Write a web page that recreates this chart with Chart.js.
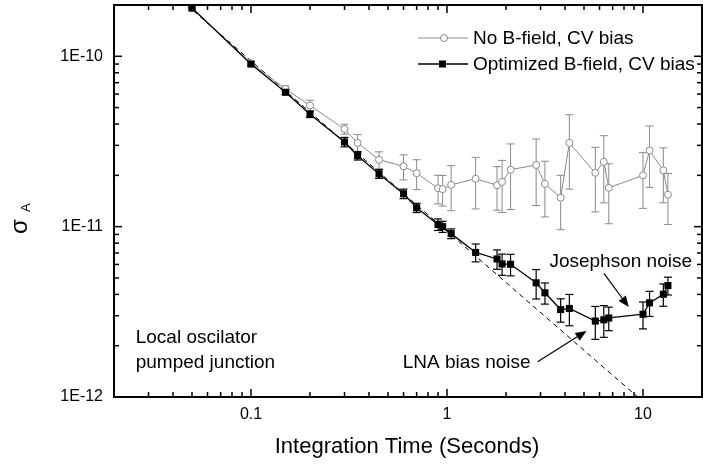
<!DOCTYPE html>
<html>
<head>
<meta charset="utf-8">
<script src="https://cdn.jsdelivr.net/npm/chart.js@4.4.1/dist/chart.umd.min.js"></script>
<style>
  html, body { margin: 0; padding: 0; background: #fff; overflow: hidden; }
  #wrap { width: 703px; height: 464px; overflow: hidden; }
</style>
</head>
<body>
<div id="wrap"><canvas id="chart" width="707" height="464"></canvas></div>
<script>
// ─── Data ───
const times = [0.05, 0.1, 0.15, 0.2, 0.3, 0.35, 0.45, 0.6, 0.7, 0.9, 0.95, 1.05, 1.4, 1.8, 1.91,
    2.11, 2.85, 3.16, 3.8, 4.21, 5.71, 6.31, 6.69, 10, 10.8, 12.7, 13.4];

const noFieldSigma = [1.92e-10, 9.1e-11, 6.43e-11, 5.14e-11, 3.74e-11, 3.1e-11, 2.47e-11, 2.26e-11,
    2.06e-11, 1.68e-11, 1.66e-11, 1.76e-11, 1.91e-11, 1.75e-11, 1.83e-11, 2.16e-11, 2.3e-11,
    1.78e-11, 1.48e-11, 3.1e-11, 2.07e-11, 2.4e-11, 1.69e-11, 2.0e-11, 2.8e-11, 2.14e-11, 1.54e-11];
const noFieldErr = [0.3e-11, 0.2e-11, 0.27e-11, 0.38e-11, 0.25e-11, 0.37e-11, 0.28e-11, 0.38e-11,
    0.41e-11, 0.32e-11, 0.34e-11, 0.52e-11, 0.64e-11, 0.5e-11, 0.62e-11, 0.9e-11, 0.97e-11,
    0.64e-11, 0.52e-11, 1.44e-11, 0.85e-11, 1.02e-11, 0.65e-11, 0.72e-11, 1.1e-11, 0.76e-11, 0.51e-11];

const optFieldSigma = [1.92e-10, 9.0e-11, 6.15e-11, 4.57e-11, 3.14e-11, 2.61e-11, 2.04e-11, 1.56e-11,
    1.29e-11, 1.03e-11, 1.0e-11, 9.1e-12, 7.06e-12, 6.46e-12, 6.04e-12, 6.01e-12, 4.68e-12,
    4.09e-12, 3.26e-12, 3.31e-12, 2.79e-12, 2.84e-12, 2.91e-12, 3.06e-12, 3.57e-12, 4.01e-12, 4.51e-12];
const optFieldErr = [2.0e-12, 2.0e-12, 2.0e-12, 2.0e-12, 2.0e-12, 1.5e-12, 1.2e-12, 1.0e-12,
    0.8e-12, 0.8e-12, 0.75e-12, 0.6e-12, 0.85e-12, 0.84e-12, 0.86e-12, 0.87e-12, 0.92e-12,
    0.58e-12, 0.51e-12, 0.69e-12, 0.61e-12, 0.6e-12, 0.46e-12, 0.55e-12, 0.6e-12, 0.6e-12, 0.54e-12];

// white-noise reference line (dashed), end points
const fitTimes = [0.04, 10];
const fitSigma = [2.35e-10, 9.4e-13];

const xTickValues = [0.1, 1, 10];
const xTickLabels = ['0.1', '1', '10'];
const yTickValues = [1e-10, 1e-11, 1e-12];
const yTickLabels = ['1E-10', '1E-11', '1E-12'];

const seriesLabels = ['No B-field, CV bias', 'Optimized B-field, CV bias'];

const FONT = "'Liberation Sans', Arial, sans-serif";
const GRAY = '#8a8a8a';

const toPoints = (xs, ys) => xs.map((x, i) => ({ x, y: ys[i] }));

const isDecade = v => Math.abs(Math.log10(v) - Math.round(Math.log10(v))) < 1e-6;

function logTicks(min, max) {
    const out = [];
    for (let d = Math.floor(Math.log10(min)); d <= Math.ceil(Math.log10(max)); d++) {
        for (let k = 1; k <= 9; k++) {
            const v = k * Math.pow(10, d);
            if (v >= min * 0.999 && v <= max * 1.001) out.push(v);
        }
    }
    return out;
}

function seg(ctx, x1, y1, x2, y2) {
    ctx.beginPath();
    ctx.moveTo(x1, y1);
    ctx.lineTo(x2, y2);
    ctx.stroke();
}

function arrow(ctx, x1, y1, x2, y2) {
    const ang = Math.atan2(y2 - y1, x2 - x1);
    const len = 11, half = 4.5;
    const bx = x2 - len * Math.cos(ang), by = y2 - len * Math.sin(ang);
    seg(ctx, x1, y1, bx, by);
    ctx.beginPath();
    ctx.moveTo(x2, y2);
    ctx.lineTo(bx + half * Math.sin(ang), by - half * Math.cos(ang));
    ctx.lineTo(bx - half * Math.sin(ang), by + half * Math.cos(ang));
    ctx.closePath();
    ctx.fill();
}

// ─── Error bars under the markers ───
const errorBars = {
    id: 'errorBars',
    beforeDatasetsDraw(chart) {
        const { ctx, scales: { x, y } } = chart;
        const draw = (vals, errs, color, width) => {
            ctx.strokeStyle = color;
            ctx.lineWidth = width;
            times.forEach((t, i) => {
                const px = x.getPixelForValue(t);
                const top = y.getPixelForValue(vals[i] + errs[i]);
                const bot = y.getPixelForValue(vals[i] - errs[i]);
                seg(ctx, px, top, px, bot);
                seg(ctx, px - 4, top, px + 4, top);
                seg(ctx, px - 4, bot, px + 4, bot);
            });
        };
        ctx.save();
        draw(noFieldSigma, noFieldErr, GRAY, 1);
        draw(optFieldSigma, optFieldErr, '#000', 1.2);
        ctx.restore();
    },
};

// ─── Frame, inward ticks, labels, legend, notes ───
const frameAxes = {
    id: 'frameAxes',
    afterDraw(chart) {
        const { ctx, chartArea: a, scales: { x, y } } = chart;
        ctx.save();
        ctx.strokeStyle = '#000';
        ctx.fillStyle = '#000';

        ctx.lineWidth = 1.5;
        logTicks(x.min, x.max).forEach(v => {
            const px = x.getPixelForValue(v);
            const len = isDecade(v) ? 8 : 5;
            seg(ctx, px, a.bottom, px, a.bottom - len);
            seg(ctx, px, a.top, px, a.top + len);
        });
        logTicks(y.min, y.max).forEach(v => {
            const py = y.getPixelForValue(v);
            const len = isDecade(v) ? 8 : 5;
            seg(ctx, a.left, py, a.left + len, py);
            seg(ctx, a.right, py, a.right - len, py);
        });

        ctx.lineWidth = 2;
        ctx.strokeRect(a.left, a.top, a.right - a.left, a.bottom - a.top);

        // tick labels
        ctx.font = `16px ${FONT}`;
        ctx.textAlign = 'center';
        ctx.textBaseline = 'middle';
        xTickValues.forEach((v, i) => ctx.fillText(xTickLabels[i], x.getPixelForValue(v), a.bottom + 18));
        ctx.textAlign = 'right';
        yTickValues.forEach((v, i) => ctx.fillText(yTickLabels[i], a.left - 11, y.getPixelForValue(v)));

        // axis titles
        ctx.font = `22px ${FONT}`;
        ctx.textAlign = 'center';
        ctx.fillText('Integration Time (Seconds)', (a.left + a.right) / 2 - 1, 447);
        ctx.save();
        ctx.translate(27, 234);
        ctx.rotate(-Math.PI / 2);
        ctx.textAlign = 'left';
        ctx.textBaseline = 'alphabetic';
        ctx.font = `24px ${FONT}`;
        ctx.fillText('σ', 0, 0);
        ctx.font = `13px ${FONT}`;
        ctx.fillText('A', 22, 3);
        ctx.restore();

        // legend
        ctx.font = `19px ${FONT}`;
        ctx.textAlign = 'left';
        ctx.textBaseline = 'middle';
        const lx1 = a.left + 304, lx2 = a.left + 354, tx = a.left + 359;
        let ly = a.top + 33;
        ctx.strokeStyle = GRAY;
        ctx.lineWidth = 1;
        seg(ctx, lx1, ly, lx2, ly);
        ctx.beginPath();
        ctx.arc(a.left + 330, ly, 3.5, 0, Math.PI * 2);
        ctx.fillStyle = '#fff';
        ctx.fill();
        ctx.stroke();
        ctx.fillStyle = '#000';
        ctx.fillText(seriesLabels[0], tx, ly + 1);
        ly = a.top + 59;
        ctx.strokeStyle = '#000';
        ctx.lineWidth = 1.3;
        seg(ctx, lx1, ly, lx2, ly);
        ctx.fillRect(a.left + 325, ly - 3.5, 7, 7);
        ctx.fillText(seriesLabels[1], tx, ly + 1);

        // notes
        ctx.fillText('Local oscilator', x.getPixelForValue(0.0258), y.getPixelForValue(2.24e-12));
        ctx.fillText('pumped junction', x.getPixelForValue(0.0258), y.getPixelForValue(1.59e-12));
        ctx.fillText('Josephson noise', x.getPixelForValue(3.33), y.getPixelForValue(6.25e-12));
        ctx.textAlign = 'right';
        ctx.fillText('LNA bias noise', x.getPixelForValue(2.67), y.getPixelForValue(1.59e-12));

        ctx.lineWidth = 1.2;
        arrow(ctx, x.getPixelForValue(2.9), y.getPixelForValue(1.61e-12),
            x.getPixelForValue(5.15), y.getPixelForValue(2.44e-12));
        arrow(ctx, x.getPixelForValue(6.32), y.getPixelForValue(5.32e-12),
            x.getPixelForValue(8.46), y.getPixelForValue(3.37e-12));

        ctx.restore();
    },
};

new Chart(document.getElementById('chart'), {
    type: 'line',
    data: {
        datasets: [{
            label: seriesLabels[1],
            data: toPoints(times, optFieldSigma),
            borderColor: '#000',
            backgroundColor: '#000',
            borderWidth: 1.3,
            pointStyle: 'rect',
            pointRadius: 5,
            pointBorderWidth: 0,
            tension: 0,
        }, {
            label: seriesLabels[0],
            data: toPoints(times, noFieldSigma),
            borderColor: GRAY,
            backgroundColor: '#fff',
            borderWidth: 1,
            pointStyle: 'circle',
            pointRadius: 3.5,
            pointBorderWidth: 1,
            tension: 0,
        }, {
            label: 'fit',
            data: toPoints(fitTimes, fitSigma),
            borderColor: '#000',
            borderWidth: 1,
            borderDash: [5, 4],
            pointRadius: 0,
            tension: 0,
        }],
    },
    options: {
        responsive: false,
        animation: false,
        layout: { padding: { left: 114, top: 3, right: 2, bottom: 67 } },
        plugins: {
            legend: { display: false },
            tooltip: { enabled: false },
        },
        scales: {
            x: { type: 'logarithmic', min: 0.02, max: 20, display: false },
            y: { type: 'logarithmic', min: 1e-12, max: 2e-10, display: false },
        },
    },
    plugins: [errorBars, frameAxes],
});
</script>
</body>
</html>
